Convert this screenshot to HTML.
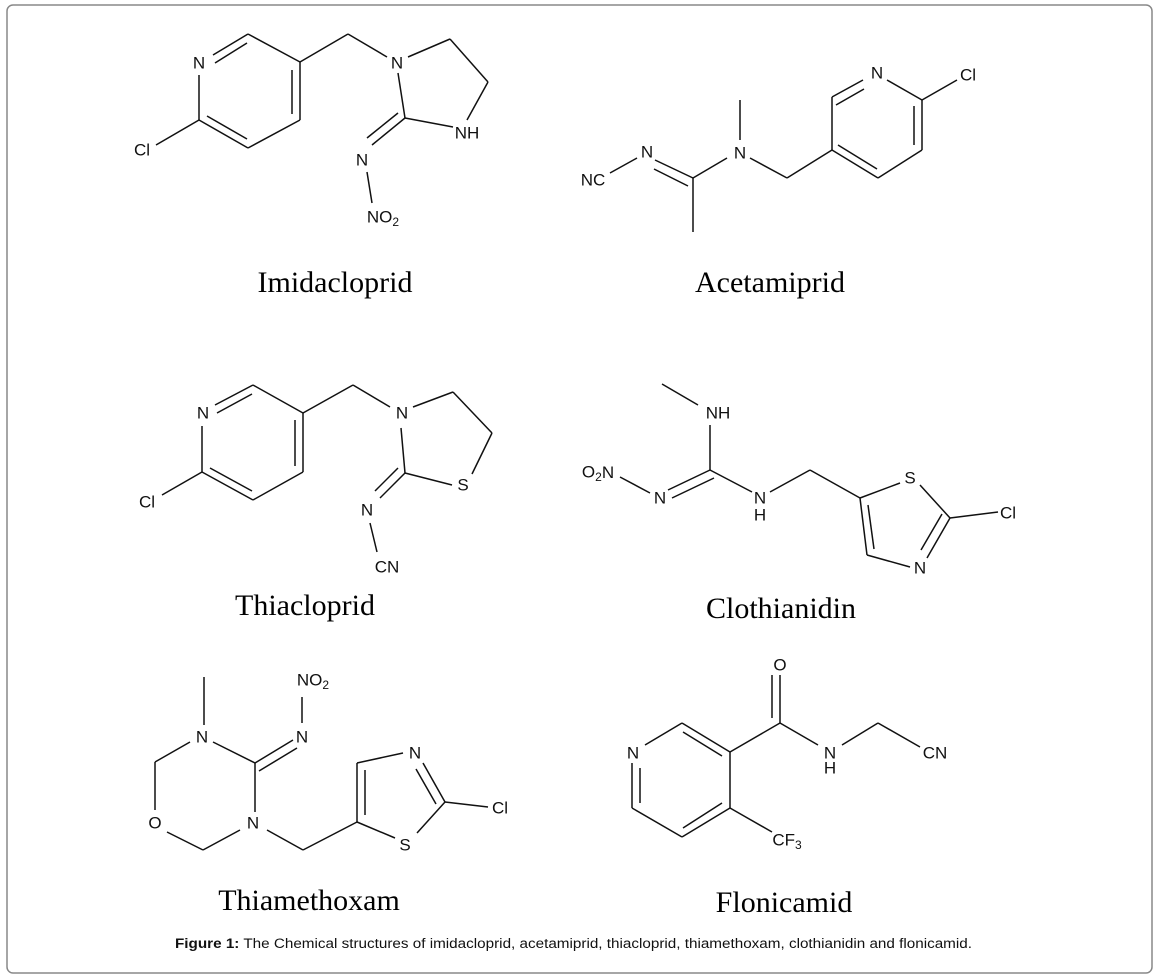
<!DOCTYPE html>
<html><head><meta charset="utf-8"><style>
html,body{margin:0;padding:0;background:#fff;width:1159px;height:980px;overflow:hidden}
svg{display:block}
.b line,.b polyline{stroke:#111;stroke-width:1.5;fill:none}
.a{font-family:"Liberation Sans",Arial,sans-serif;font-size:17px;fill:#111;text-anchor:middle;dominant-baseline:central}
.s{font-size:12px}
.n{font-family:"Liberation Serif","Times New Roman",serif;font-size:30px;fill:#000;text-anchor:middle}
</style></head><body>
<svg width="1159" height="980" viewBox="0 0 1159 980">
<rect x="7" y="5" width="1145" height="968" rx="6" fill="none" stroke="#888" stroke-width="1.5"/>
<g class="b">
<!-- Imidacloprid -->
<line x1="213" y1="55" x2="248" y2="34"/><line x1="215" y1="63" x2="247" y2="43"/>
<line x1="248" y1="34" x2="300" y2="62"/>
<line x1="300" y1="62" x2="300" y2="120"/><line x1="292" y1="70" x2="292" y2="114"/>
<line x1="300" y1="120" x2="248" y2="148"/>
<line x1="248" y1="148" x2="199" y2="120"/><line x1="247" y1="139" x2="207" y2="116"/>
<line x1="199" y1="120" x2="199" y2="75"/>
<line x1="199" y1="120" x2="156" y2="145"/>
<line x1="300" y1="62" x2="348" y2="34"/><line x1="348" y1="34" x2="387" y2="57"/>
<line x1="408" y1="57" x2="450" y2="39"/><line x1="450" y1="39" x2="488" y2="82"/>
<line x1="488" y1="82" x2="467" y2="120"/>
<line x1="453" y1="127" x2="405" y2="118"/>
<line x1="405" y1="118" x2="398" y2="73"/>
<line x1="405" y1="118" x2="372" y2="145"/><line x1="398" y1="113" x2="367" y2="138"/>
<line x1="367" y1="172" x2="372" y2="203"/>
<!-- Acetamiprid -->
<line x1="832" y1="97" x2="863" y2="80"/><line x1="836" y1="105" x2="864" y2="89"/>
<line x1="887" y1="80" x2="922" y2="100"/>
<line x1="922" y1="100" x2="957" y2="80"/>
<line x1="922" y1="100" x2="922" y2="150"/><line x1="914" y1="106" x2="914" y2="145"/>
<line x1="922" y1="150" x2="878" y2="178"/>
<line x1="878" y1="178" x2="832" y2="150"/><line x1="877" y1="169" x2="838" y2="145"/>
<line x1="832" y1="150" x2="832" y2="97"/>
<line x1="832" y1="150" x2="787" y2="178"/><line x1="787" y1="178" x2="750" y2="158"/>
<line x1="740" y1="100" x2="740" y2="140"/>
<line x1="727" y1="158" x2="693" y2="178"/>
<line x1="693" y1="178" x2="693" y2="232"/>
<line x1="693" y1="178" x2="655" y2="160"/><line x1="688" y1="186" x2="654" y2="169"/>
<line x1="637" y1="158" x2="610" y2="173"/>
<!-- Thiacloprid -->
<line x1="215" y1="405" x2="253" y2="385"/><line x1="217" y1="413" x2="252" y2="394"/>
<line x1="253" y1="385" x2="303" y2="413"/>
<line x1="303" y1="413" x2="303" y2="472"/><line x1="295" y1="420" x2="295" y2="466"/>
<line x1="303" y1="472" x2="253" y2="500"/>
<line x1="253" y1="500" x2="202" y2="472"/><line x1="252" y1="491" x2="210" y2="468"/>
<line x1="202" y1="472" x2="202" y2="426"/>
<line x1="202" y1="472" x2="162" y2="495"/>
<line x1="303" y1="413" x2="353" y2="385"/><line x1="353" y1="385" x2="390" y2="407"/>
<line x1="413" y1="407" x2="453" y2="392"/><line x1="453" y1="392" x2="492" y2="433"/>
<line x1="492" y1="433" x2="472" y2="474"/>
<line x1="452" y1="485" x2="405" y2="473"/>
<line x1="405" y1="473" x2="401" y2="428"/>
<line x1="405" y1="473" x2="380" y2="498"/><line x1="398" y1="468" x2="375" y2="491"/>
<line x1="370" y1="523" x2="377" y2="552"/>
<!-- Clothianidin -->
<line x1="662" y1="384" x2="698" y2="405"/>
<line x1="710" y1="425" x2="710" y2="470"/>
<line x1="710" y1="470" x2="668" y2="490"/><line x1="714" y1="478" x2="672" y2="498"/>
<line x1="650" y1="493" x2="620" y2="477"/>
<line x1="710" y1="470" x2="752" y2="492"/>
<line x1="770" y1="492" x2="810" y2="470"/><line x1="810" y1="470" x2="860" y2="498"/>
<line x1="860" y1="498" x2="900" y2="483"/>
<line x1="920" y1="485" x2="950" y2="518"/>
<line x1="950" y1="518" x2="998" y2="512"/>
<line x1="950" y1="518" x2="927" y2="558"/><line x1="942" y1="514" x2="921" y2="550"/>
<line x1="910" y1="567" x2="867" y2="555"/>
<line x1="867" y1="555" x2="860" y2="498"/><line x1="874" y1="549" x2="868" y2="505"/>
<!-- Thiamethoxam -->
<line x1="204" y1="677" x2="204" y2="725"/>
<line x1="213" y1="742" x2="255" y2="763"/>
<line x1="255" y1="763" x2="293" y2="740"/><line x1="259" y1="771" x2="297" y2="748"/>
<line x1="302" y1="723" x2="302" y2="697"/>
<line x1="190" y1="742" x2="155" y2="762"/>
<line x1="155" y1="762" x2="155" y2="810"/>
<line x1="167" y1="832" x2="203" y2="850"/>
<line x1="203" y1="850" x2="240" y2="830"/>
<line x1="255" y1="812" x2="255" y2="763"/>
<line x1="267" y1="830" x2="303" y2="850"/>
<line x1="303" y1="850" x2="357" y2="822"/>
<line x1="357" y1="822" x2="357" y2="763"/><line x1="365" y1="815" x2="365" y2="770"/>
<line x1="357" y1="763" x2="403" y2="753"/>
<line x1="423" y1="763" x2="445" y2="802"/><line x1="416" y1="769" x2="436" y2="804"/>
<line x1="445" y1="802" x2="488" y2="807"/>
<line x1="445" y1="802" x2="417" y2="833"/>
<line x1="395" y1="838" x2="357" y2="822"/>
<!-- Flonicamid -->
<line x1="645" y1="745" x2="682" y2="723"/>
<line x1="682" y1="723" x2="730" y2="752"/><line x1="683" y1="732" x2="722" y2="756"/>
<line x1="730" y1="752" x2="730" y2="808"/>
<line x1="730" y1="808" x2="682" y2="837"/><line x1="722" y1="803" x2="683" y2="828"/>
<line x1="682" y1="837" x2="632" y2="808"/>
<line x1="632" y1="808" x2="632" y2="763"/><line x1="640" y1="803" x2="640" y2="768"/>
<line x1="730" y1="752" x2="780" y2="723"/>
<line x1="780" y1="723" x2="780" y2="675"/><line x1="772" y1="718" x2="772" y2="675"/>
<line x1="780" y1="723" x2="818" y2="745"/>
<line x1="842" y1="745" x2="878" y2="723"/><line x1="878" y1="723" x2="920" y2="747"/>
<line x1="730" y1="808" x2="772" y2="832"/>
</g>
<g class="a">
<text x="199" y="63">N</text><text x="142" y="150">Cl</text><text x="397" y="63">N</text>
<text x="467" y="133">NH</text><text x="362" y="160">N</text>
<text x="383" y="217">NO<tspan class="s" dy="5">2</tspan></text>

<text x="877" y="73">N</text><text x="968" y="75">Cl</text><text x="740" y="153">N</text>
<text x="647" y="152">N</text><text x="593" y="180">NC</text>

<text x="203" y="413">N</text><text x="147" y="502">Cl</text><text x="402" y="413">N</text>
<text x="463" y="485">S</text><text x="367" y="510">N</text><text x="387" y="567">CN</text>

<text x="718" y="413">NH</text><text x="660" y="498">N</text>
<text x="598" y="472">O<tspan class="s" dy="5">2</tspan><tspan dy="-5">N</tspan></text>
<text x="760" y="498">N</text><text x="760" y="515">H</text>
<text x="910" y="478">S</text><text x="1008" y="513">Cl</text><text x="920" y="568">N</text>

<text x="202" y="737">N</text><text x="302" y="737">N</text>
<text x="313" y="680">NO<tspan class="s" dy="5">2</tspan></text>
<text x="155" y="823">O</text><text x="253" y="823">N</text>
<text x="415" y="753">N</text><text x="500" y="808">Cl</text><text x="405" y="845">S</text>

<text x="633" y="753">N</text><text x="780" y="665">O</text>
<text x="830" y="753">N</text><text x="830" y="768">H</text>
<text x="935" y="753">CN</text>
<text x="787" y="840">CF<tspan class="s" dy="5">3</tspan></text>
</g>
<text class="n" x="335" y="292">Imidacloprid</text>
<text class="n" x="770" y="292">Acetamiprid</text>
<text class="n" x="305" y="615">Thiacloprid</text>
<text class="n" x="781" y="618">Clothianidin</text>
<text class="n" x="309" y="910">Thiamethoxam</text>
<text class="n" x="784" y="912">Flonicamid</text>
<text x="175" y="948" font-family="Liberation Sans, Arial, sans-serif" font-size="13.5" fill="#111" textLength="797" lengthAdjust="spacingAndGlyphs"><tspan font-weight="bold">Figure 1:</tspan> The Chemical structures of imidacloprid, acetamiprid, thiacloprid, thiamethoxam, clothianidin and flonicamid.</text>
</svg>
</body></html>
